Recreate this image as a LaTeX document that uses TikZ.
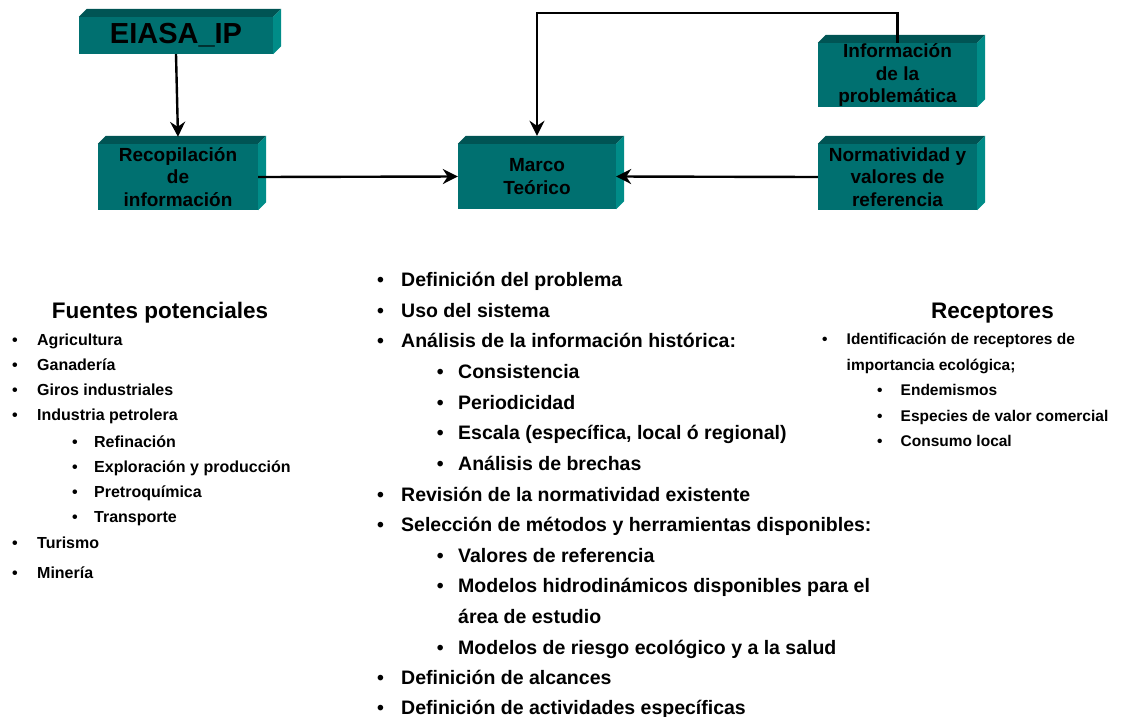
\documentclass[tikz,border=0pt]{standalone}
\usepackage{fontspec}
\setmainfont{Liberation Sans}
\usetikzlibrary{arrows.meta}

\definecolor{tealfront}{RGB}{0,112,112}
\definecolor{tealtop}{RGB}{0,84,84}
\definecolor{tealside}{RGB}{0,140,136}

\newcommand{\vin}[1][24pt]{\makebox[#1][l]{•}}

\tikzset{
    caja/.style={fill=tealfront, inner sep=0pt, align=center,
        font=\bfseries\fontsize{19}{22.5}\selectfont},
    flecha/.style={line width=2.4pt, -{Stealth[length=15pt,width=15pt,inset=5pt]}},
    titulo/.style={anchor=base, inner sep=0pt, font=\bfseries\fontsize{22.5}{26}\selectfont},
    itemm/.style={anchor=base west, inner sep=0pt, font=\bfseries\fontsize{19.5}{23}\selectfont},
    iteml/.style={anchor=base west, inner sep=0pt, font=\bfseries\fontsize{16}{19}\selectfont},
    itemr/.style={anchor=base west, inner sep=0pt, font=\bfseries\fontsize{15.5}{18}\selectfont},
}

\begin{document}
\begin{tikzpicture}
    [x=1pt, y=-1pt]
    \useasboundingbox (0,0) rectangle (1130,716);

    % cajas
    \node[caja, minimum width=194pt, minimum height=37pt,
        font=\bfseries\fontsize{29}{32}\selectfont] (eiasa) at (176,35.5) {EIASA\_IP};
    \node[caja, minimum width=160pt, minimum height=66pt] (recop) at (178,177) {Recopilación\\de\\información};
    \node[caja, minimum width=158pt, minimum height=65pt] (marco) at (537,176.5) {Marco\\Teórico};
    \node[caja, minimum width=159pt, minimum height=64pt] (info) at (897.5,75) {Información\\de la\\problemática};
    \node[caja, minimum width=159pt, minimum height=66pt] (norma) at (897.5,177) {Normatividad y\\valores de\\referencia};

    % caras de arriba y de lado
    \foreach \n in {eiasa,recop,marco,info,norma}{
        \fill[tealtop] (\n.north west) -- ++(8,-8) -- ([shift={(8,-8)}]\n.north east) -- (\n.north east) -- cycle;
        \fill[tealside] (\n.north east) -- ++(8,-8) -- ([shift={(8,-8)}]\n.south east) -- (\n.south east) -- cycle;
    }

    % flechas
    \draw[flecha] (eiasa.south) -- ([yshift=7pt]recop.north);
    \draw[flecha] (recop.east) -- (marco.west);
    \draw[flecha] (norma.west) -- (marco.east);
    \draw[flecha] (info.north) -- ++(0,-30) -| ([yshift=8pt]marco.north);

    % fuentes potenciales
    \node[titulo] (fuentes) at (160,318) {Fuentes potenciales};
    \node[iteml] (f1) at (12,345.7) {\vin[25pt]Agricultura};
    \node[iteml] (f2) at (12,370.7) {\vin[25pt]Ganadería};
    \node[iteml] (f3) at (12,395.7) {\vin[25pt]Giros industriales};
    \node[iteml] (f4) at (12,420.7) {\vin[25pt]Industria petrolera};
    \node[iteml] (f5) at (72,447.4) {\vin[22pt]Refinación};
    \node[iteml] (f6) at (72,472.4) {\vin[22pt]Exploración y producción};
    \node[iteml] (f7) at (72,497.4) {\vin[22pt]Pretroquímica};
    \node[iteml] (f8) at (72,522.4) {\vin[22pt]Transporte};
    \node[iteml] (f9) at (12,548) {\vin[25pt]Turismo};
    \node[iteml] (f10) at (12,578.4) {\vin[25pt]Minería};

    % marco teorico
    \node[itemm] (m1) at (377,286.5) {\vin Definición del problema};
    \node[itemm] (m2) at (377,317.1) {\vin Uso del sistema};
    \node[itemm] (m3) at (377,347.8) {\vin Análisis de la información histórica:};
    \node[itemm] (m4) at (436.6,378.4) {\vin[21.4pt]Consistencia};
    \node[itemm] (m5) at (436.6,409.1) {\vin[21.4pt]Periodicidad};
    \node[itemm] (m6) at (436.6,439.7) {\vin[21.4pt]Escala (específica, local ó regional)};
    \node[itemm] (m7) at (436.6,470.3) {\vin[21.4pt]Análisis de brechas};
    \node[itemm] (m8) at (377,501) {\vin Revisión de la normatividad existente};
    \node[itemm] (m9) at (377,531.6) {\vin Selección de métodos y herramientas disponibles:};
    \node[itemm] (m10) at (436.6,562.3) {\vin[21.4pt]Valores de referencia};
    \node[itemm] (m11) at (436.6,592.9) {\vin[21.4pt]Modelos hidrodinámicos disponibles para el};
    \node[itemm] (m12) at (458,623.5) {área de estudio};
    \node[itemm] (m13) at (436.6,654.2) {\vin[21.4pt]Modelos de riesgo ecológico y a la salud};
    \node[itemm] (m14) at (377,684.8) {\vin Definición de alcances};
    \node[itemm] (m15) at (377,714.5) {\vin Definición de actividades específicas};

    % receptores
    \node[titulo] (recep) at (992.5,318) {Receptores};
    \node[itemr] (r1) at (822,344.5) {\vin[24.5pt]Identificación de receptores de};
    \node[itemr] (r2) at (846.5,370.5) {importancia ecológica;};
    \node[itemr] (r3) at (877,395.5) {\vin[23.5pt]Endemismos};
    \node[itemr] (r4) at (877,421.5) {\vin[23.5pt]Especies de valor comercial};
    \node[itemr] (r5) at (877,446.5) {\vin[23.5pt]Consumo local};
\end{tikzpicture}
\end{document}
